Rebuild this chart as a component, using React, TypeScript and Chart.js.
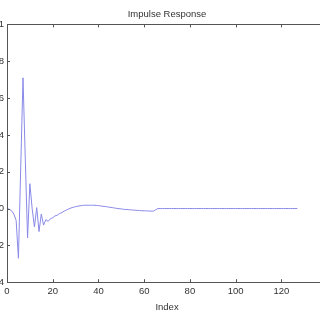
import React, { useEffect, useRef } from "react";
import { Chart, registerables } from "chart.js";

Chart.register(...registerables);

const TITLE = "Impulse Response";
const X_LABEL = "Index";
const X_MIN = 0;
const X_MAX = 140;
const X_STEP = 20;
const Y_MIN = -0.4;
const Y_MAX = 1;
const Y_STEP = 0.2;

// impulse response samples, index 0..127
const RESPONSE: number[] = [
  0, -0.004, -0.012, -0.03, -0.065, -0.27, 0.22, 0.71, 0.27, -0.16,
  0.135, 0.0, -0.1, 0.005, -0.125, -0.03, -0.09, -0.06, -0.07, -0.055,
  -0.05, -0.04, -0.036, -0.027, -0.022, -0.014, -0.008, -0.002, 0.003, 0.007,
  0.01, 0.013, 0.015, 0.017, 0.018, 0.018, 0.018, 0.018, 0.018, 0.017,
  0.016, 0.014, 0.012, 0.011, 0.009, 0.007, 0.005, 0.003, 0.001, -0.001,
  -0.002, -0.004, -0.005, -0.006, -0.007, -0.008, -0.009, -0.01, -0.011, -0.012,
  -0.012, -0.013, -0.013, -0.014, -0.014, -0.007, 0, 0, 0, 0,
  0, 0, 0, 0, 0, 0, 0, 0, 0, 0,
  0, 0, 0, 0, 0, 0, 0, 0, 0, 0,
  0, 0, 0, 0, 0, 0, 0, 0, 0, 0,
  0, 0, 0, 0, 0, 0, 0, 0, 0, 0,
  0, 0, 0, 0, 0, 0, 0, 0, 0, 0,
  0, 0, 0, 0, 0, 0, 0, 0,
];

const FONT = { family: "'Liberation Sans', Arial, sans-serif", size: 9.5 };
const TEXT_COLOR = "#333";
const AXIS_COLOR = "#555";

const frameTicks = {
  id: "frameTicks",
  afterDraw(chart: any) {
    const { ctx, chartArea } = chart;
    const { left, right, top, bottom } = chartArea;
    const xs = chart.scales.x;
    const ys = chart.scales.y;
    const L = 3;
    ctx.save();
    ctx.strokeStyle = AXIS_COLOR;
    ctx.lineWidth = 1;
    ctx.beginPath();
    ctx.rect(Math.round(left) + 0.5, Math.round(top) + 0.5, Math.round(right - left), Math.round(bottom - top));
    ctx.stroke();
    ctx.beginPath();
    xs.ticks.forEach((t: any) => {
      const px = Math.round(xs.getPixelForValue(t.value)) + 0.5;
      ctx.moveTo(px, bottom);
      ctx.lineTo(px, bottom - L);
      ctx.moveTo(px, top);
      ctx.lineTo(px, top + L);
    });
    ys.ticks.forEach((t: any) => {
      const py = Math.round(ys.getPixelForValue(t.value)) + 0.5;
      ctx.moveTo(left, py);
      ctx.lineTo(left + L, py);
      ctx.moveTo(right, py);
      ctx.lineTo(right - L, py);
    });
    ctx.stroke();
    ctx.restore();
  },
};

export default function App() {
  const ref = useRef<HTMLCanvasElement | null>(null);

  useEffect(() => {
    if (!ref.current) return;
    const points = RESPONSE.map((v, i) => ({ x: i, y: v }));
    const chart = new Chart(ref.current, {
      type: "line",
      data: {
        datasets: [
          {
            data: points,
            borderColor: "#8a8ae8",
            borderWidth: 1,
            pointRadius: 0,
            tension: 0,
            fill: false,
          },
        ],
      },
      options: {
        animation: false,
        responsive: false,
        maintainAspectRatio: false,
        layout: { padding: { left: 0, right: 0, top: 1, bottom: 7 } },
        plugins: {
          legend: { display: false },
          tooltip: { enabled: false },
          title: { display: false },
        },
        scales: {
          x: {
            type: "linear",
            min: X_MIN,
            max: X_MAX,
            grid: { display: false, drawTicks: false },
            border: { display: false },
            ticks: { stepSize: X_STEP, color: TEXT_COLOR, font: FONT, padding: 3, maxRotation: 0 },
            title: {
              display: true,
              text: X_LABEL,
              color: TEXT_COLOR,
              font: FONT,
              padding: { top: 2, bottom: 0 },
            },
          },
          x2: {
            type: "linear",
            position: "top",
            min: X_MIN,
            max: X_MAX,
            grid: { display: false, drawTicks: false },
            border: { display: false },
            ticks: { display: false },
            title: {
              display: true,
              text: TITLE,
              color: TEXT_COLOR,
              font: FONT,
              padding: { top: 8, bottom: 4 },
            },
          },
          y: {
            type: "linear",
            min: Y_MIN,
            max: Y_MAX,
            grid: { display: false, drawTicks: false },
            border: { display: false },
            ticks: {
              stepSize: Y_STEP,
              color: TEXT_COLOR,
              font: FONT,
              padding: 3,
              callback: (v: any) => {
                const n = Math.round(Number(v) * 10) / 10;
                return String(n);
              },
            },
            afterFit: (scale: any) => {
              scale.width = 40;
            },
          },
        },
      },
      plugins: [frameTicks],
    });
    return () => chart.destroy();
  }, []);

  return (
    <div style={{ position: "fixed", left: 0, top: 0, width: 320, height: 320, overflow: "hidden", background: "#fff" }}>
      <canvas ref={ref} width={371} height={320} style={{ position: "absolute", left: -33, top: 0, width: 371, height: 320 }} />
    </div>
  );
}
